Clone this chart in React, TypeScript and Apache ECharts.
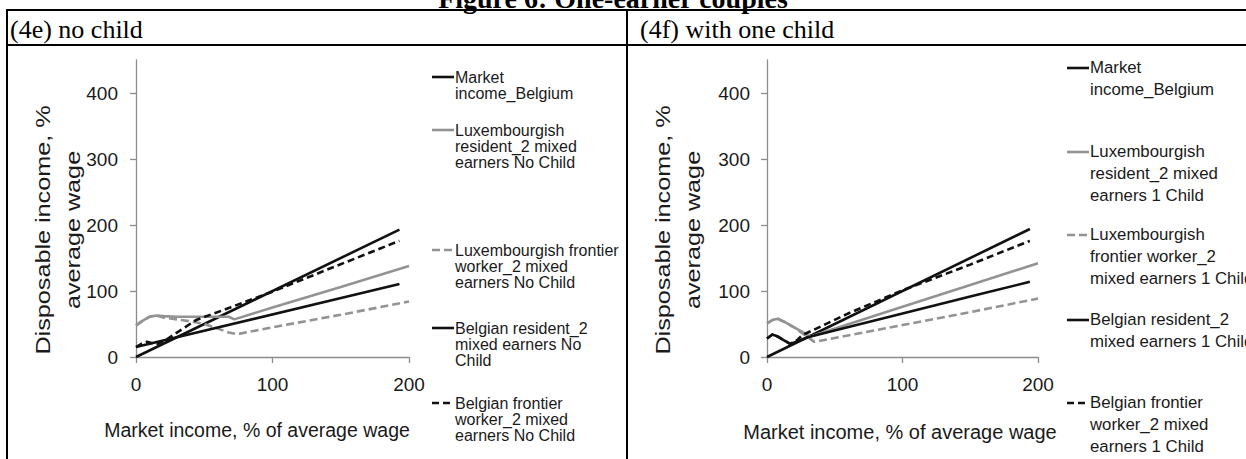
import React, { useEffect, useRef } from "react";
import * as echarts from "echarts";

// ---------- data ----------
const xTickValues = [0, 100, 200];
const yTickValues = [0, 100, 200, 300, 400];

// Panel (4e) no child
const eMarketX = [0, 193];
const eMarketY = [0, 193];
const eLuxResX = [0, 5, 10, 15, 20, 30, 40, 50, 60, 68, 72, 100, 150, 200];
const eLuxResY = [48, 55, 61, 63, 62, 61, 61, 61, 61, 61, 57, 75, 106, 138];
const eLuxFrX = [0, 5, 10, 15, 20, 30, 40, 50, 60, 68, 74, 100, 150, 200];
const eLuxFrY = [48, 55, 61, 63, 60, 57, 54, 50, 43, 37, 34.5, 45, 64, 84];
const eBelResX = [0, 193];
const eBelResY = [15, 110.5];
const eBelFrX = [0, 4, 8, 12, 16, 22, 30, 44, 69, 100, 142, 193];
const eBelFrY = [15, 20, 23, 21, 20, 26, 37, 56, 75, 99, 134, 176];

// Panel (4f) with one child
const fMarketX = [0, 194];
const fMarketY = [0, 194];
const fLuxResX = [0, 4, 8, 14, 20, 26, 32, 100, 150, 200];
const fLuxResY = [51, 56, 58, 52, 45, 38, 31, 76, 109, 142];
const fLuxFrX = [0, 4, 8, 14, 20, 26, 35, 100, 150, 200];
const fLuxFrY = [51, 56, 58, 52, 45, 36, 23, 48.5, 68, 88.5];
const fBelResX = [0, 4, 8, 12, 17, 22, 30, 100, 150, 194];
const fBelResY = [28, 34, 31, 26, 20, 23, 30, 66, 91.5, 114];
const fBelFrX = [0, 4, 8, 12, 17, 22, 26, 60, 100, 150, 194];
const fBelFrY = [28, 34, 31, 26, 20, 25, 33, 66, 101, 140, 176];

const eNames = [
  "Market income_Belgium",
  "Luxembourgish resident_2 mixed earners No Child",
  "Luxembourgish frontier worker_2 mixed earners No Child",
  "Belgian resident_2 mixed earners No Child",
  "Belgian frontier worker_2 mixed earners No Child",
];
const fNames = [
  "Market income_Belgium",
  "Luxembourgish resident_2 mixed earners 1 Child",
  "Luxembourgish frontier worker_2 mixed earners 1 Child",
  "Belgian resident_2 mixed earners 1 Child",
  "Belgian frontier worker_2 mixed earners 1 Child",
];
const eLegendLines = [
  ["Market", "income_Belgium"],
  ["Luxembourgish", "resident_2 mixed", "earners No Child"],
  ["Luxembourgish frontier", "worker_2 mixed", "earners No Child"],
  ["Belgian resident_2", "mixed earners No", "Child"],
  ["Belgian frontier", "worker_2 mixed", "earners No Child"],
];
const fLegendLines = [
  ["Market", "income_Belgium"],
  ["Luxembourgish", "resident_2 mixed", "earners 1 Child"],
  ["Luxembourgish", "frontier worker_2", "mixed earners 1 Child"],
  ["Belgian resident_2", "mixed earners 1 Child"],
  ["Belgian frontier", "worker_2 mixed", "earners 1 Child"],
];

const figureTitle = "Figure 6: One-earner couples";
const panelTitles = ["(4e) no child", "(4f) with one child"];
const yTitleLines = ["Disposable income, %", "average wage"];
const xTitle = "Market income, % of average wage";

// ---------- styles ----------
const SANS = "'Liberation Sans', Arial, sans-serif";
const SERIF = "'Liberation Serif', 'Times New Roman', serif";
const BLACK = "#111111";
const GRAY = "#939393";
const AXIS = "#8c8c8c";
const seriesStyles = [
  { color: BLACK, width: 2.6, type: "solid" as any },
  { color: GRAY, width: 2.6, type: "solid" as any },
  { color: GRAY, width: 2.6, type: [8, 4] as any },
  { color: BLACK, width: 2.6, type: "solid" as any },
  { color: BLACK, width: 2.6, type: [7, 4] as any },
];

const zip = (xs: number[], ys: number[]) => xs.map((x, i) => [x, ys[i]]);

export default function App() {
  const ref = useRef<HTMLDivElement>(null);
  useEffect(() => {
    const chart = echarts.init(ref.current!, null, { renderer: "svg" });

    const panels = [
      {
        grid: { left: 136, top: 60, width: 273, height: 297 },
        names: eNames,
        data: [
          zip(eMarketX, eMarketY),
          zip(eLuxResX, eLuxResY),
          zip(eLuxFrX, eLuxFrY),
          zip(eBelResX, eBelResY),
          zip(eBelFrX, eBelFrY),
        ],
        legend: eLegendLines,
        legendX: 432,
        legendTops: [77, 130, 250, 328, 403],
        legendFont: 16,
        legendLH: 16,
        yTitleX: [43, 73],
        xTitleX: 257,
        xTitleY: 430,
        xTitleFont: 19.5,
      },
      {
        grid: { left: 767, top: 60, width: 271, height: 297 },
        names: fNames,
        data: [
          zip(fMarketX, fMarketY),
          zip(fLuxResX, fLuxResY),
          zip(fLuxFrX, fLuxFrY),
          zip(fBelResX, fBelResY),
          zip(fBelFrX, fBelFrY),
        ],
        legend: fLegendLines,
        legendX: 1067,
        legendTops: [68, 152, 235, 320, 403],
        legendFont: 16.8,
        legendLH: 21.7,
        yTitleX: [663, 693],
        xTitleX: 900,
        xTitleY: 432,
        xTitleFont: 20,
      },
    ];

    const xAxes = panels.map((p, i) => ({
      type: "value",
      gridIndex: i,
      min: 0,
      max: 200,
      interval: 100,
      axisLine: { show: true, lineStyle: { color: AXIS, width: 1.3 } },
      axisTick: { show: true, length: 6, customValues: xTickValues, lineStyle: { color: AXIS, width: 1.3 } },
      axisLabel: { fontSize: 19, color: "#1a1a1a", fontFamily: SANS, margin: 18, customValues: xTickValues },
      splitLine: { show: false },
    }));
    const yAxes = panels.map((p, i) => ({
      type: "value",
      gridIndex: i,
      min: 0,
      max: 450,
      interval: 100,
      axisLine: { show: true, lineStyle: { color: AXIS, width: 1.3 } },
      axisTick: { show: true, length: 6, customValues: yTickValues, lineStyle: { color: AXIS, width: 1.3 } },
      axisLabel: {
        fontSize: 19,
        color: "#1a1a1a",
        fontFamily: SANS,
        margin: i === 0 ? 18 : 17,
        customValues: yTickValues,
      },
      splitLine: { show: false },
    }));

    const series: any[] = [];
    panels.forEach((p, pi) => {
      p.data.forEach((d, si) => {
        series.push({
          type: "line",
          name: p.names[si],
          xAxisIndex: pi,
          yAxisIndex: pi,
          data: d,
          symbol: "none",
          lineStyle: { ...seriesStyles[si] },
          z: 2 + si,
        });
      });
    });

    const graphic: any[] = [];
    // figure title (partly cut at top, as in the source)
    graphic.push({
      type: "text",
      x: 613,
      y: -2,
      style: {
        text: figureTitle,
        font: `bold 28px ${SERIF}`,
        fill: "#000",
        textAlign: "center",
        textVerticalAlign: "middle",
      },
    });
    // table lines
    const lineStyle = { stroke: "#000", lineWidth: 2 };
    graphic.push({ type: "line", z: 50, shape: { x1: 6, y1: 10, x2: 1246, y2: 10 }, style: lineStyle });
    graphic.push({ type: "line", z: 50, shape: { x1: 6, y1: 45, x2: 1246, y2: 45 }, style: lineStyle });
    graphic.push({ type: "line", z: 50, shape: { x1: 7, y1: 9, x2: 7, y2: 459 }, style: lineStyle });
    graphic.push({ type: "rect", z: 49, shape: { x: 628, y: 236, width: 22, height: 28 }, style: { fill: "#fff" } });
    graphic.push({ type: "line", z: 50, shape: { x1: 627, y1: 9, x2: 627, y2: 459 }, style: lineStyle });
    // panel header titles
    graphic.push({
      type: "text", x: 10, y: 29,
      style: { text: panelTitles[0], font: `26px ${SERIF}`, fill: "#000", textVerticalAlign: "middle" },
    });
    graphic.push({
      type: "text", x: 640, y: 29,
      style: { text: panelTitles[1], font: `26px ${SERIF}`, fill: "#000", textVerticalAlign: "middle" },
    });

    panels.forEach((p) => {
      // y-axis title (two rotated lines)
      yTitleLines.forEach((t, li) => {
        graphic.push({
          type: "text",
          x: p.yTitleX[li],
          y: 230,
          rotation: Math.PI / 2,
          scaleX: 1.2,
          style: {
            text: t,
            font: `21px ${SANS}`,
            fill: "#1a1a1a",
            textAlign: "center",
            textVerticalAlign: "middle",
          },
        });
      });
      // x-axis title
      graphic.push({
        type: "text",
        x: p.xTitleX,
        y: p.xTitleY,
        style: {
          text: xTitle,
          font: `${p.xTitleFont}px ${SANS}`,
          fill: "#1a1a1a",
          textAlign: "center",
          textVerticalAlign: "middle",
        },
      });
      // legend
      p.legend.forEach((lines, li) => {
        const cy = p.legendTops[li];
        const st = seriesStyles[li];
        graphic.push({
          type: "line",
          shape: { x1: p.legendX, y1: cy, x2: p.legendX + 22, y2: cy },
          style: {
            stroke: st.color,
            lineWidth: 2.6,
            lineDash: Array.isArray(st.type) ? st.type : null,
          },
        });
        graphic.push({
          type: "text",
          x: p.legendX + 23,
          y: cy - p.legendLH / 2,
          style: {
            text: lines.join("\n"),
            font: `${p.legendFont}px ${SANS}`,
            lineHeight: p.legendLH,
            fill: "#1a1a1a",
            textVerticalAlign: "top",
          },
        });
      });
    });

    chart.setOption({
      animation: false,
      backgroundColor: "#ffffff",
      grid: panels.map((p) => p.grid),
      xAxis: xAxes,
      yAxis: yAxes,
      series,
      graphic,
    });
    return () => chart.dispose();
  }, []);
  return (
    <div
      ref={ref}
      style={{ position: "fixed", left: 0, top: 0, width: 1246, height: 459, background: "#fff" }}
    />
  );
}
